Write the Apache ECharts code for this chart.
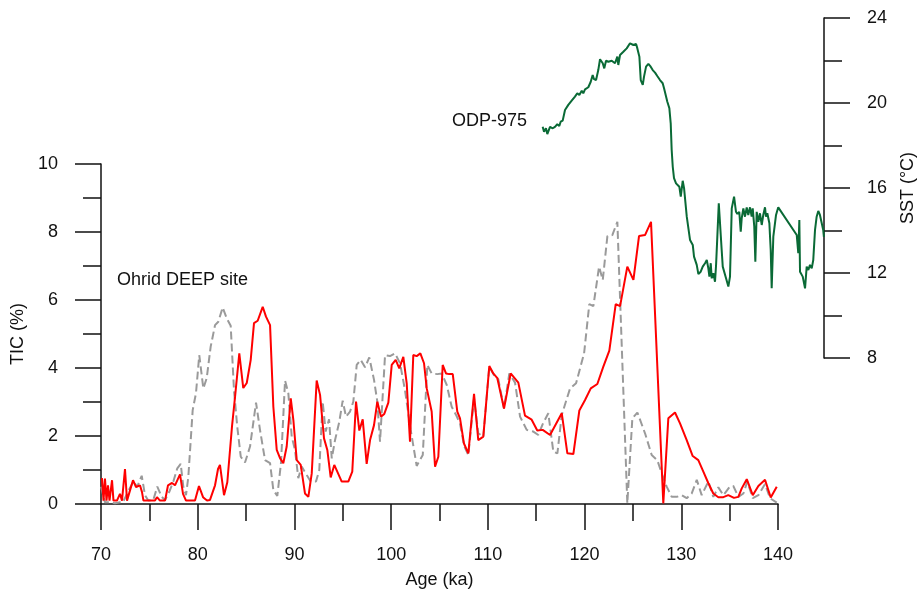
<!DOCTYPE html>
<html>
<head>
<meta charset="utf-8">
<script src="https://cdn.jsdelivr.net/npm/echarts@6/dist/echarts.min.js"></script>
<style>
  html, body { margin: 0; padding: 0; background: #fff; }
  #main { width: 919px; height: 590px; }
</style>
</head>
<body>
<div id="main"></div>
<script>
// Ohrid DEEP site TIC (%), red solid
var redAge = [70.10, 70.26, 70.41, 70.57, 70.72, 70.88, 71.14, 71.29, 71.65, 71.96, 72.17, 72.48, 72.69, 73.00, 73.31, 73.62, 74.03, 74.24, 74.39, 75.07,
  75.58, 75.79, 76.10, 76.62, 76.93, 77.34, 77.65, 78.17, 78.48, 78.79, 79.72, 80.13, 80.55, 80.96, 81.27, 81.79, 82.10, 82.30, 82.72, 83.06,
  83.55, 83.86, 84.30, 84.71, 85.07, 85.48, 85.82, 86.20, 86.72, 87.06, 87.48, 87.82, 88.17, 88.51, 88.85, 89.20, 89.62, 89.89, 90.24, 90.65,
  91.09, 91.44, 91.79, 92.30, 92.65, 93.06, 93.40, 93.75, 94.12, 94.89, 95.57, 95.98, 96.37, 96.71, 97.06, 97.47, 97.82, 98.23, 98.57, 98.95,
  99.29, 99.71, 100.06, 100.47, 100.84, 101.26, 101.61, 101.95, 102.29, 102.64, 103.02, 103.40, 103.68, 104.19, 104.54, 104.88, 105.33, 105.67, 106.01, 106.37,
  106.84, 107.12, 107.53, 107.98, 108.57, 109.01, 109.53, 110.15, 110.56, 110.98, 111.67, 112.36, 113.15, 113.84, 114.53, 115.11, 115.67, 116.43, 117.64, 118.22,
  118.84, 119.46, 120.05, 120.64, 121.32, 121.94, 122.56, 123.22, 123.67, 124.42, 125.05, 125.63, 126.25, 126.87, 128.14, 128.66, 129.35, 129.87, 130.56, 131.18,
  131.76, 132.28, 132.80, 133.31, 133.83, 134.35, 134.86, 135.45, 135.90, 136.25, 136.77, 137.39, 137.97, 138.66, 139.25, 139.87];
var redTic = [0.76, 0.10, 0.75, 0.10, 0.55, 0.10, 0.70, 0.10, 0.10, 0.30, 0.10, 1.03, 0.10, 0.40, 0.70, 0.50, 0.55, 0.35, 0.10, 0.10,
  0.10, 0.20, 0.10, 0.10, 0.55, 0.62, 0.55, 0.87, 0.30, 0.10, 0.10, 0.53, 0.20, 0.10, 0.12, 0.55, 1.03, 1.15, 0.26, 0.64,
  2.30, 3.15, 4.43, 3.41, 3.56, 4.24, 5.32, 5.39, 5.80, 5.51, 5.26, 2.86, 1.59, 1.35, 1.20, 1.69, 3.11, 2.47, 1.29, 1.15,
  0.31, 0.21, 0.90, 3.63, 3.21, 1.93, 1.59, 0.78, 1.15, 0.66, 0.66, 0.95, 3.01, 2.16, 2.49, 1.18, 1.88, 2.32, 3.01, 2.57,
  2.65, 2.98, 4.09, 4.24, 3.99, 4.33, 3.55, 1.83, 4.38, 4.35, 4.43, 4.14, 3.40, 2.72, 1.10, 1.39, 4.09, 3.84, 3.82, 3.82,
  2.72, 2.52, 1.78, 1.49, 3.24, 1.88, 1.98, 4.06, 3.84, 3.70, 2.81, 3.84, 3.57, 2.60, 2.48, 2.16, 2.18, 2.03, 2.67, 1.49,
  1.47, 2.75, 3.06, 3.40, 3.53, 4.04, 4.51, 5.88, 5.82, 6.98, 6.59, 7.88, 7.91, 8.30, 0.02, 2.52, 2.69, 2.37, 1.88, 1.41,
  1.29, 0.95, 0.61, 0.31, 0.20, 0.20, 0.26, 0.18, 0.21, 0.46, 0.73, 0.26, 0.53, 0.71, 0.19, 0.51];

// Ohrid DEEP site TIC (%), grey dashed
var greyAge = [70.00, 70.18, 70.41, 70.93, 71.45, 71.96, 72.27, 72.79, 73.34, 73.75, 74.21, 74.55, 74.89, 75.41, 75.82, 76.28, 76.62, 77.06, 77.48, 77.89,
  78.24, 78.51, 78.79, 79.03, 79.48, 79.82, 80.16, 80.58, 80.93, 81.34, 81.79, 82.13, 82.58, 83.00, 83.41, 83.75, 84.09, 84.45, 84.89, 85.41,
  86.03, 86.44, 86.96, 87.48, 87.82, 88.23, 88.61, 89.03, 89.37, 89.72, 90.06, 90.40, 90.75, 91.27, 91.68, 92.23, 92.57, 92.92, 93.23, 93.58,
  93.86, 94.20, 94.64, 94.99, 95.33, 95.75, 96.09, 96.44, 96.85, 97.30, 97.74, 98.23, 98.57, 98.85, 99.37, 99.88, 100.40, 100.92, 101.43, 102.02,
  102.64, 103.27, 103.74, 104.19, 104.77, 105.23, 105.75, 106.26, 106.71, 107.12, 107.54, 107.98, 108.57, 109.01, 109.53, 110.15, 110.64, 111.08, 111.67, 112.22,
  112.81, 113.33, 114.02, 114.70, 115.22, 115.67, 116.25, 116.77, 117.19, 117.64, 118.50, 119.12, 119.95, 120.49, 120.91, 121.50, 121.88, 122.36, 122.87, 123.39,
  124.42, 124.94, 125.46, 126.25, 126.94, 127.52, 127.98, 128.49, 129.01, 129.53, 130.05, 130.56, 131.08, 131.60, 132.11, 132.80, 133.31, 133.83, 134.35, 134.97,
  135.38, 135.90, 136.42, 136.83, 137.39, 137.97, 138.66, 139.18, 139.87];
var greyTic = [0.51, 0.31, 0.05, 0.05, 0.02, 0.05, 0.05, 0.36, 0.66, 0.51, 0.83, 0.26, 0.10, 0.12, 0.51, 0.21, 0.12, 0.36, 0.66, 1.05,
  1.18, 0.51, 0.26, 0.80, 2.76, 3.26, 4.38, 3.40, 3.70, 4.63, 5.26, 5.36, 5.78, 5.46, 5.24, 3.35, 2.27, 1.39, 1.22, 1.69,
  2.98, 2.18, 1.29, 1.20, 0.41, 0.24, 1.20, 3.63, 3.26, 1.98, 1.59, 0.76, 1.10, 0.85, 0.66, 0.66, 1.00, 3.01, 2.13, 2.49,
  1.34, 1.88, 2.42, 3.04, 2.57, 2.72, 3.01, 4.09, 4.24, 4.02, 4.31, 3.65, 3.01, 1.83, 4.38, 4.35, 4.43, 4.14, 3.35, 2.18,
  1.12, 1.44, 4.09, 3.84, 3.82, 3.84, 3.50, 2.86, 2.62, 2.37, 1.71, 1.44, 3.11, 2.08, 1.98, 4.04, 3.79, 3.67, 2.81, 3.84,
  3.57, 2.57, 2.18, 2.13, 2.03, 2.35, 2.67, 1.54, 1.49, 2.62, 3.40, 3.55, 4.43, 5.88, 5.82, 6.98, 6.59, 7.88, 7.91, 8.30,
  0.02, 2.52, 2.69, 2.08, 1.44, 1.29, 0.90, 0.51, 0.21, 0.21, 0.26, 0.17, 0.31, 0.71, 0.26, 0.66, 0.21, 0.49, 0.26, 0.49,
  0.53, 0.21, 0.31, 0.66, 0.17, 0.26, 0.59, 0.17, 0.04];

// ODP-975 SST (°C), green
var sstAge = [115.67, 115.81, 116.01, 116.15, 116.43, 116.71, 116.94, 117.18, 117.39, 117.53, 117.74, 117.98, 118.32, 118.67, 119.01, 119.25, 119.46, 119.71, 119.87, 120.05,
  120.39, 120.64, 120.84, 120.98, 121.19, 121.42, 121.60, 121.77, 121.88, 122.04, 122.22, 122.46, 122.81, 123.15, 123.39, 123.49, 123.67, 124.01, 124.36, 124.70,
  124.88, 125.05, 125.33, 125.46, 125.67, 125.81, 126.02, 126.15, 126.36, 126.60, 126.84, 127.05, 127.29, 127.52, 127.80, 128.08, 128.22, 128.42, 128.56, 128.77,
  128.91, 129.01, 129.12, 129.25, 129.46, 129.60, 129.80, 129.95, 130.15, 130.29, 130.57, 130.91, 131.19, 131.32, 131.60, 131.77, 132.01, 132.22, 132.46, 132.64,
  132.80, 132.91, 133.05, 133.15, 133.32, 133.49, 133.60, 133.73, 133.88, 134.08, 134.18, 134.29, 134.42, 134.63, 134.87, 135.04, 135.22, 135.32, 135.46, 135.66,
  135.80, 136.00, 136.15, 136.25, 136.42, 136.59, 136.77, 136.93, 137.11, 137.28, 137.39, 137.55, 137.66, 137.80, 137.97, 138.14, 138.32, 138.48, 138.66, 138.76,
  138.90, 139.11, 139.25, 139.35, 139.52, 139.70, 139.80, 140.03, 141.94, 142.10, 142.21, 142.28, 142.56, 142.80, 142.97, 143.14, 143.31, 143.49, 143.65, 143.83,
  144.00, 144.17, 144.34, 144.52, 144.68, 144.75];
var sstVal = [18.88, 18.65, 18.81, 18.54, 18.88, 18.81, 18.88, 19.00, 18.92, 19.12, 19.17, 19.67, 19.91, 20.11, 20.30, 20.46, 20.38, 20.58, 20.46, 20.64,
  20.74, 21.00, 21.32, 21.12, 21.08, 21.55, 22.06, 22.10, 21.87, 21.63, 21.99, 21.94, 21.99, 21.87, 22.18, 21.79, 22.26, 22.41, 22.57, 22.81,
  22.88, 22.73, 22.78, 22.57, 22.18, 21.08, 20.85, 21.24, 21.71, 21.84, 21.71, 21.55, 21.43, 21.27, 21.08, 20.93, 20.69, 20.61, 20.06, 19.75,
  19.04, 17.79, 17.00, 16.46, 16.22, 16.30, 16.06, 15.59, 16.34, 15.99, 14.65, 13.55, 13.32, 12.77, 12.38, 11.95, 12.06, 12.30, 12.46, 12.61,
  12.22, 11.83, 12.46, 11.75, 11.99, 11.59, 12.38, 13.71, 15.28, 15.31, 13.08, 12.30, 12.38, 11.75, 11.36, 11.83, 15.04, 15.00, 15.59, 14.88,
  14.78, 14.88, 13.94, 14.57, 15.04, 14.65, 15.09, 14.73, 15.09, 14.65, 15.04, 14.18, 12.53, 14.88, 14.41, 14.81, 14.26, 14.73, 15.09, 14.65,
  14.81, 14.34, 13.08, 11.28, 13.71, 13.79, 14.73, 15.09, 13.79, 12.93, 14.49, 12.06, 11.83, 11.28, 12.30, 12.14, 12.38, 12.22, 12.61, 14.02,
  14.65, 14.92, 14.73, 14.73, 14.02, 13.70];

var ageTicks = [70, 140, 10];   // min, max, interval of the age axis
var ticTicks = [0, 10, 2];
var sstTicks = [8, 24, 4];

function zip(a, b) {
    var out = [];
    for (var i = 0; i < a.length; i++) {
        out.push([a[i], b[i]]);
    }
    return out;
}

var FONT = 'Liberation Sans, Arial, sans-serif';
var FS = 18;
var axisCol = '#111';

var chart = echarts.init(document.getElementById('main'));
chart.setOption({
    animation: false,
    backgroundColor: '#fff',
    textStyle: { fontFamily: FONT },
    grid: [
        { left: 101, top: 164, width: 677, height: 340, outerBoundsMode: 'none', containLabel: false },
        { left: 101, top: 18, width: 723, height: 340, outerBoundsMode: 'none', containLabel: false }
    ],
    xAxis: [
        {
            type: 'value', gridIndex: 0,
            min: ageTicks[0], max: ageTicks[1], interval: ageTicks[2],
            name: 'Age (ka)', nameLocation: 'middle', nameGap: 67,
            nameTextStyle: { fontSize: FS, color: axisCol, fontFamily: FONT },
            axisLine: { show: true, onZero: false, lineStyle: { color: axisCol, width: 1.5 } },
            axisTick: { show: true, length: 26, lineStyle: { color: axisCol, width: 1.5 } },
            minorTick: { show: true, splitNumber: 2, length: 17, lineStyle: { color: axisCol, width: 1.5 } },
            axisLabel: { margin: 42, fontSize: FS, color: axisCol, fontFamily: FONT },
            splitLine: { show: false }
        },
        {
            type: 'value', gridIndex: 1, show: false,
            min: 70, max: 144.76
        }
    ],
    yAxis: [
        {
            type: 'value', gridIndex: 0,
            min: ticTicks[0], max: ticTicks[1], interval: ticTicks[2],
            name: 'TIC (%)', nameLocation: 'middle', nameGap: 62, nameRotate: 90,
            nameTextStyle: { fontSize: FS, color: axisCol, fontFamily: FONT },
            axisLine: { show: true, onZero: false, lineStyle: { color: axisCol, width: 1.5 } },
            axisTick: { show: true, length: 26, lineStyle: { color: axisCol, width: 1.5 } },
            minorTick: { show: true, splitNumber: 2, length: 18, lineStyle: { color: axisCol, width: 1.5 } },
            axisLabel: { margin: 43, fontSize: FS, color: axisCol, fontFamily: FONT },
            splitLine: { show: false }
        },
        {
            type: 'value', gridIndex: 1, position: 'right',
            min: sstTicks[0], max: sstTicks[1], interval: sstTicks[2],
            name: 'SST (°C)', nameLocation: 'middle', nameGap: 75, nameRotate: 90,
            nameTextStyle: { fontSize: FS, color: axisCol, fontFamily: FONT },
            axisLine: { show: true, onZero: false, lineStyle: { color: axisCol, width: 1.5 } },
            axisTick: { show: true, length: 26, lineStyle: { color: axisCol, width: 1.5 } },
            minorTick: { show: true, splitNumber: 2, length: 18, lineStyle: { color: axisCol, width: 1.5 } },
            axisLabel: { margin: 43, fontSize: FS, color: axisCol, fontFamily: FONT },
            splitLine: { show: false }
        }
    ],
    series: [
        {
            name: 'TIC grey', type: 'line', xAxisIndex: 0, yAxisIndex: 0,
            data: zip(greyAge, greyTic), showSymbol: false, z: 2,
            lineStyle: { color: '#9a9a9a', width: 2, type: [8, 4] }
        },
        {
            name: 'TIC', type: 'line', xAxisIndex: 0, yAxisIndex: 0,
            data: zip(redAge, redTic), showSymbol: false, z: 3,
            lineStyle: { color: '#ff0000', width: 2 }
        },
        {
            name: 'SST', type: 'line', xAxisIndex: 1, yAxisIndex: 1,
            data: zip(sstAge, sstVal), showSymbol: false, z: 3,
            lineStyle: { color: '#0a6a36', width: 2 }
        }
    ],
    graphic: [
        { type: 'text', left: 117, top: 271, style: { text: 'Ohrid DEEP site', fontSize: FS, fill: axisCol, fontFamily: FONT } },
        { type: 'text', left: 452, top: 112, style: { text: 'ODP-975', fontSize: FS, fill: axisCol, fontFamily: FONT } }
    ]
});
</script>
</body>
</html>
